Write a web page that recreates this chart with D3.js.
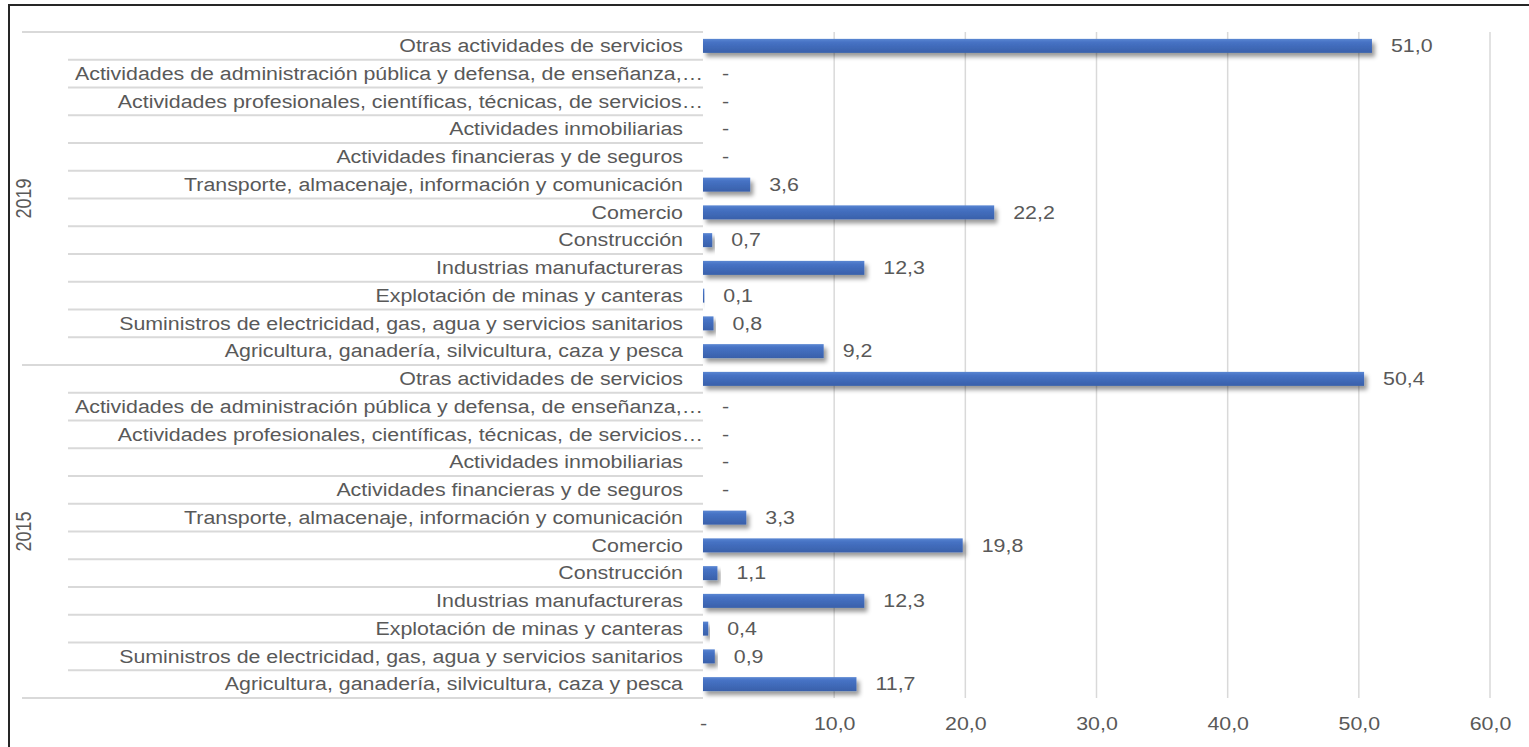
<!DOCTYPE html>
<html lang="es">
<head>
    <meta charset="utf-8">
    <title>Actividades 2015 - 2019</title>
    <script src="https://d3js.org/d3.v7.min.js"></script>
    <style>
        body { margin: 0; background: #fff; }
        text { font-family: "Liberation Sans", Arial, sans-serif; fill: #595959; }
    </style>
</head>
<body>

<script>
    // categorias de arriba hacia abajo, como se ven en el grafico
    const categories = [
        "Otras actividades de servicios",
        "Actividades de administración pública y defensa, de enseñanza,…",
        "Actividades profesionales, científicas, técnicas, de servicios…",
        "Actividades inmobiliarias",
        "Actividades financieras y de seguros",
        "Transporte, almacenaje, información y comunicación",
        "Comercio",
        "Construcción",
        "Industrias manufactureras",
        "Explotación de minas y canteras",
        "Suministros de electricidad, gas, agua y servicios sanitarios",
        "Agricultura, ganadería, silvicultura, caza y pesca"
    ];
    const years = ["2019", "2015"];
    const values2019 = [51.0, 0, 0, 0, 0, 3.6, 22.2, 0.7, 12.3, 0.1, 0.8, 9.2];
    const values2015 = [50.4, 0, 0, 0, 0, 3.3, 19.8, 1.1, 12.3, 0.4, 0.9, 11.7];
    const xTicks = [0, 10, 20, 30, 40, 50, 60];

    const W = 1529, H = 747;
    const yTop = 32, yBottom = 698, x0 = 703, x1 = 1490;
    const sx = 1.2;   // el texto del original esta estirado a lo ancho
    const fs = 17.8;

    const rows = [];
    years.forEach((yr, g) => {
        const vals = g === 0 ? values2019 : values2015;
        categories.forEach((c, i) => rows.push({ key: yr + "|" + i, year: yr, cat: c, value: vals[i], idx: i }));
    });

    const es = d3.formatLocale({ decimal: ",", thousands: ".", grouping: [3], currency: ["", " €"] });
    const fmt = v => v === 0 ? "-" : es.format(".1f")(v);

    const x = d3.scaleLinear().domain([0, 60]).range([x0, x1]);
    const y = d3.scaleBand().domain(rows.map(d => d.key)).range([yTop, yBottom]).padding(0);
    const groupH = y.bandwidth() * categories.length;

    const svg = d3.select("body").append("svg").attr("width", W).attr("height", H);

    const defs = svg.append("defs");
    const grad = defs.append("linearGradient").attr("id", "barGrad")
        .attr("x1", 0).attr("y1", 0).attr("x2", 0).attr("y2", 1);
    grad.append("stop").attr("offset", "0%").attr("stop-color", "#5a86d2");
    grad.append("stop").attr("offset", "25%").attr("stop-color", "#4672c4");
    grad.append("stop").attr("offset", "100%").attr("stop-color", "#3960aa");
    const sh = defs.append("filter").attr("id", "shadow")
        .attr("x", "-20%").attr("y", "-50%").attr("width", "140%").attr("height", "220%");
    sh.append("feDropShadow").attr("dx", 3).attr("dy", 4).attr("stdDeviation", 2)
        .attr("flood-color", "#000").attr("flood-opacity", 0.4);

    // marco
    svg.append("rect").attr("x", 9).attr("y", 5).attr("width", W).attr("height", H)
        .attr("fill", "none").attr("stroke", "#262626").attr("stroke-width", 2);

    // lineas de division grilla
    svg.append("g").selectAll("line").data(xTicks.slice(1)).join("line")
        .attr("x1", d => x(d)).attr("x2", d => x(d))
        .attr("y1", yTop).attr("y2", yBottom)
        .attr("stroke", "#d9d9d9").attr("stroke-width", 1.5);

    // separadores de filas en zona de etiquetas
    const bounds = d3.range(rows.length + 1);
    svg.append("g").selectAll("line").data(bounds).join("line")
        .attr("x1", d => d % categories.length === 0 ? 22 : 68)
        .attr("x2", x0)
        .attr("y1", d => yTop + d * y.bandwidth())
        .attr("y2", d => yTop + d * y.bandwidth())
        .attr("stroke", "#d9d9d9").attr("stroke-width", 2);

    // etiquetas de categorias
    svg.append("g").selectAll("text").data(rows).join("text")
        .attr("transform", d => `translate(${d.cat.endsWith("…") ? 703 : 683},${y(d.key) + y.bandwidth() / 2}) scale(${sx},1)`)
        .attr("text-anchor", "end").attr("dy", "0.35em")
        .style("font-size", fs + "px")
        .text(d => d.cat);

    // años
    svg.append("g").selectAll("text").data(years).join("text")
        .attr("transform", (d, i) => `translate(23,${yTop + groupH * i + groupH / 2}) rotate(-90) scale(1,${sx})`)
        .attr("text-anchor", "middle").attr("dy", "0.35em")
        .style("font-size", "18px")
        .text(d => d);

    // barras
    const barH = 14;
    svg.append("g").selectAll("rect").data(rows.filter(d => d.value > 0)).join("rect")
        .attr("x", x(0))
        .attr("y", d => y(d.key) + y.bandwidth() / 2 - barH / 2)
        .attr("width", d => x(d.value) - x(0))
        .attr("height", barH)
        .attr("fill", "url(#barGrad)")
        .attr("filter", "url(#shadow)");

    // etiquetas de valor
    svg.append("g").selectAll("text").data(rows).join("text")
        .attr("transform", d => `translate(${x(d.value) + 19},${y(d.key) + y.bandwidth() / 2}) scale(${sx},1)`)
        .attr("dy", "0.35em")
        .style("font-size", fs + "px")
        .text(d => fmt(d.value));

    // eje x
    const axis = svg.append("g").attr("transform", `translate(0,${yBottom})`)
        .call(d3.axisBottom(x).tickValues(xTicks).tickSize(0).tickPadding(0).tickFormat(fmt));
    axis.select(".domain").remove();
    axis.selectAll("text")
        .attr("y", 26).attr("dy", "0.35em")
        .attr("transform", `scale(${sx},1)`)
        .style("font-size", fs + "px")
        .style("font-family", "\"Liberation Sans\", Arial, sans-serif")
        .attr("fill", "#595959");
</script>

</body>
</html>
